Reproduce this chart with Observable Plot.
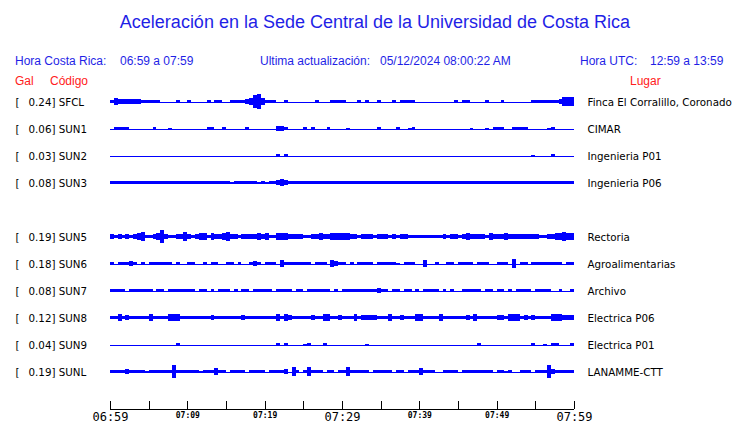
<!DOCTYPE html>
<html>
<head>
<meta charset="utf-8">
<script src="https://cdn.jsdelivr.net/npm/d3@7"></script>
<script src="https://cdn.jsdelivr.net/npm/@observablehq/plot@0.6"></script>
<style>
  html, body { margin: 0; padding: 0; background: #fff; }
  #wrap { position: relative; width: 740px; height: 423px; overflow: hidden; background: #fff; }
  .t { position: absolute; white-space: pre; font-family: "Liberation Sans", Arial, sans-serif; line-height: 1; }
  .blue { color: #1f1fe6; }
  .red { color: #ff2020; }
  #traces { position: absolute; left: 0; top: 88px; }
  #axis { position: absolute; left: 0; top: 395px; }
</style>
</head>
<body>
<div id="wrap">
  <div class="t blue" id="title" style="font-size:18px; left:0; width:750px; text-align:center; top:13px;">Aceleración en la Sede Central de la Universidad de Costa Rica</div>
  <div class="t blue" style="font-size:12px; left:15px; top:55px;">Hora Costa Rica:</div>
  <div class="t blue" style="font-size:12px; left:120px; top:55px;">06:59 a 07:59</div>
  <div class="t blue" style="font-size:12px; left:260px; top:55px;">Ultima actualización:</div>
  <div class="t blue" style="font-size:12px; left:380px; top:55px;">05/12/2024 08:00:22 AM</div>
  <div class="t blue" style="font-size:12px; left:580px; top:55px;">Hora UTC:</div>
  <div class="t blue" style="font-size:12px; left:650px; top:55px;">12:59 a 13:59</div>
  <div class="t red" style="font-size:12px; left:15px; top:75px;">Gal</div>
  <div class="t red" style="font-size:12px; left:50px; top:75px;">Código</div>
  <div class="t red" style="font-size:12px; left:630px; top:75px;">Lugar</div>
  <div id="traces"></div>
  <div id="axis"></div>
</div>
<script>
// ---- data ----
const codes  = ["SFCL","SUN1","SUN2","SUN3","SUN5","SUN6","SUN7","SUN8","SUN9","SUNL"];
const gal    = [0.24, 0.06, 0.03, 0.08, 0.19, 0.18, 0.08, 0.12, 0.04, 0.19];
const places = ["Finca El Corralillo, Coronado","CIMAR","Ingenieria P01","Ingenieria P06",
                "Rectoria","Agroalimentarias","Archivo","Electrica P06","Electrica P01","LANAMME-CTT"];
const rowOrder = ["SFCL","SUN1","SUN2","SUN3","SUN4","SUN5","SUN6","SUN7","SUN8","SUN9","SUNL"];

const startTime = "06:59";
const endTime = "07:59";
const sampleSeconds = 30; // one envelope value per half minute
const tickTimes = ["06:59","07:04","07:09","07:14","07:19","07:24","07:29","07:34","07:39","07:44","07:49","07:54","07:59"];
const bigTickLabels = ["06:59","07:29","07:59"];
const smallTickLabels = ["07:09","07:19","07:39","07:49"];

// envelope half-amplitude of each trace, one value per half minute (120 values)
const envSFCL = [1,3,2,2,2,2,2,2,1,1,1.5,1.5,1.5,0,0,0,0,1,0,0,1,0,0,0,0,1,0,1,1,0,
                 0,1,1.5,1.5,1.5,2,3,5,6,3,1,1,1,0,0,1.5,0,0,0,0,0,0,0,1,0,0,0,1.5,1,1.5,
                 1,0,0,0,1,0,1.5,0,0,1,0,0,0,1,0,1,1,1,1,0,0,0,0,0,0,0,0,0,0,1,
                 0,1.5,1,0,0,0,0,1,0,0,0,1,0,0,0,0,0,0,0,1.5,1.5,1.5,1.5,1.5,1.5,1.5,2,3.5,4,3.5];
const envSUN1 = [0,1,1,1,1,0,0,0,0,0,0,1,0,0,0,0.5,0,0,0,0,0,0,0,0,0,1.5,1.5,0,0,1,
                 0,0,0,0,0,1,0,0,0,0,0,0,0,2,2,1.5,0,0,0,0,1,0,1.5,0,0,0,1,0,0,0,
                 0,0.5,0,0,0,0,0,0,0,1,0,0,0,0,1,0,0,0.5,1,0,0,0,0,0,0,0,0,0,0,0,
                 0,0,0,0.5,0,0,0,0.5,0,1.5,1.5,1,0,0,1.5,1.5,1,1,0,0,0,0,0,0.5,1,0,0,0,0,0];
const envSUN2 = [0,0,0,0,0,0,0,0,0,0,0,0,0,0,0,0,0,0,0,0,0,0,0,0,0,0,0,0,0,0,
                 0,0,0,0,0,0,0,0,0,0,0,0,0,1.5,0,1,0,0,0,0,0,0,0,0,0,0,0,0,0,0,
                 0,0,0,0,0,0,0,0,0,0,0,0,0,0,0,0,0,0,0,0,0,0,0,0,0,0,0,0,0,0,
                 0,0,0,0,0,0,0,0,0,0,0,0,0,0,0,0,0,0,0,0.5,0,0,0,0,1,0,0,0,0,0];
const envSUN3 = [1.5,1.5,1.5,1.5,1.5,1.5,1.5,1.5,1.5,1,1,1.5,1.5,1.5,1.5,1,1.5,1.5,1.5,1.5,1,1.5,1,1,1,1.5,1.5,1,1.5,1,
                 1.5,0.5,1.5,1.5,1,1.5,1.5,1,0.5,1,0.5,1,1.5,2,2.5,2,1.5,1.5,1.5,1.5,1,1.5,1.5,1.5,1,1.5,1.5,1,1.5,1.5,
                 1.5,1,1.5,1.5,1.5,1.5,1.5,1.5,1.5,1.5,1,1.5,1.5,1.5,1.5,1.5,1.5,1.5,1.5,1,1.5,1.5,1.5,1.5,1.5,1.5,1,1.5,1.5,1,
                 1,1.5,1.5,1.5,1,1.5,1.5,1.5,1.5,1.5,1.5,1.5,1.5,1.5,1,1.5,1.5,1.5,1.5,1.5,1.5,1.5,1.5,1.5,1.5,1.5,1.5,1.5,1.5,1.5];
const envSUN5 = [2,1,2,1.5,2,1.5,2,2.5,3.5,1,1.5,2,2.5,5,2,1.5,1,2,2,3.5,2,1,2,2.5,3,1,2.5,2,2,2.5,
                 3.5,2,2,1,2,2,2,2,2.5,2,3,1,1.5,2.5,2.5,3,2,2,2,2,1.5,1.5,2,2,3,2,2,2.5,2.5,2.5,
                 2.5,2.5,2,2,1.5,2,2,2,1.5,2,2,2,1.5,2,1.5,2,2,1.5,1.5,1.5,1.5,1.5,1.5,1.5,1.5,1.5,2,1.5,2,2,
                 1.5,2,2.5,2,2,2,2,1.5,3,2,2,2,3,2,2,2,2,2,2,2,2,1.5,1.5,2,2,2.5,3,3.5,3,3];
const envSUN6 = [1,0,1.5,1,1.5,2,1.5,0,1,0,1,1,1,1,1,1,0,1,0,0,1.5,1,0,0,1,0,1,1,0,0,
                 1,1,0,1,0,0,1.5,2,1.5,0,1,1,1,0,3,1,1,1,1,1,1.5,1.5,0,1,1.5,1,0,3,2,1,
                 1,0,1,0,1.5,1.5,1,1,0,1.5,1.5,1,1,1,0.5,0,1.5,1,1,0,0,2.5,0,0,1,0,0,1.5,1.5,0,
                 1,1,1,1,0,1,1,1,0,0,1,1,1,0,3.5,0,1.5,1,0,1.5,1.5,1,1.5,1.5,1.5,1,1,0,1,1.5];
const envSUN7 = [1.5,1.5,1.5,1,0,1.5,1,1,1,1.5,1,0,1.5,1.5,0,1.5,1.5,1.5,1.5,1,1,1,0,1.5,1,0,1,0,1,1.5,
                 1.5,0,1,0,1,1,0,1.5,1.5,1,1,1,0,1,1,1.5,1.5,0,1.5,1.5,0,1.5,1.5,1,1,1.5,1,0,1,0,
                 1,1.5,1.5,1,1.5,1.5,1.5,1.5,1.5,2,1,1,0,1,1,0,1.5,1.5,0,1,0,1.5,1.5,1.5,1,0,1,0,1,0,
                 0,1.5,1.5,1.5,1,1,0,1,1,0,1,1,0,1,0,1.5,1.5,1.5,1,0,1.5,1.5,1.5,1.5,0,0,1,0,0,1];
const envSUN8 = [1.5,1.5,2.5,1.5,2,1.5,1.5,1.5,1.5,1.5,2.5,1.5,1.5,1.5,1.5,2.5,2.5,2.5,1.5,1.5,1.5,1.5,1.5,1.5,1.5,1.5,2,1.5,1.5,1.5,
                 1.5,1.5,1.5,1.5,2,1.5,1.5,1.5,1.5,1.5,1.5,1.5,1.5,2.5,1.5,2.5,2,1.5,1.5,1.5,1.5,1.5,2,1.5,1.5,3,3,1.5,1.5,2,
                 1.5,1.5,1.5,2.5,1.5,2,2,2,2,1.5,1.5,1.5,2.5,1.5,1.5,2,1.5,1.5,1.5,2.5,2.5,1.5,1.5,1.5,1.5,2.5,1.5,1.5,1.5,1.5,
                 1.5,1.5,2,1.5,2.5,1.5,1.5,1.5,1.5,1.5,2,2,1.5,2.5,2.5,2.5,1.5,2,1.5,2,1.5,1.5,1.5,1.5,2.5,2.5,2.5,2,2,2];
const envSUN9 = [0,0,0,0,0,0,0,0,0,0,0,0,0,0,0,0,0,1.5,0,0,0,0,0,0,0,0,0,0,0,0,
                 0,0,0,0,0,0,0,0,0,0,0,0,0,1,0,1.5,0,0,0,0,0.5,1,0,0,0,1,0,0,0,0,
                 0,0,0,0,0,0,0.5,0,0,0,0,0,0,0,0,0,0,0,0,0,0,0,0,0,0,0,0,0,0,0,
                 0,0,0,0,0,1.5,0,0,0,0,0,0,0,0,0,0,0,0,0,1,0,0,0.5,0,1.5,1,0,0,0,1];
const envSUNL = [1,1,1.5,1,2,1.5,1.5,1,1,0.5,1,1,1,1,1,1,5.5,1,1.5,1.5,1.5,1,1,0.5,1,1.5,1,3,1.5,1,
                 0,1.5,1.5,1.5,1,0,1.5,1,1.5,1,0,1.5,1.5,1.5,1,2,0,4,1,0,1,4,1.5,1.5,1.5,0,1.5,1.5,0,1.5,
                 1,3.5,1.5,1.5,1.5,1.5,1.5,0,1,1,1,1,1,0,1.5,1.5,0,1,1.5,1.5,2.5,1.5,1.5,1.5,0,0,1,1,1,1,
                 0,1,1,1,1,1,1,1,1,0,1,1,0.5,1,0,0,1.5,1.5,1.5,0,1,1,1,5,2,1.5,1.5,1.5,1.5,1.5];
const envelopes = {
  SFCL: envSFCL, SUN1: envSUN1, SUN2: envSUN2, SUN3: envSUN3, SUN5: envSUN5,
  SUN6: envSUN6, SUN7: envSUN7, SUN8: envSUN8, SUN9: envSUN9, SUNL: envSUNL
};

// ---- build tables ----
const parse = d3.utcParse("%H:%M");
const fmt = d3.utcFormat("%H:%M");
const t0 = parse(startTime), t1 = parse(endTime);
const stations = codes.map((code, i) => ({code, gal: gal[i], place: places[i]}));
const samples = [];
for (const code of codes) {
  envelopes[code].forEach((a, i) => {
    samples.push({code, a,
      s: new Date(+t0 + i * sampleSeconds * 1000),
      e: new Date(+t0 + (i + 1) * sampleSeconds * 1000)});
  });
}
const BLUE = "#0000ff";
const W = 740, ML = 110, MR = 166;

const traces = Plot.plot({
  width: W, height: 297,
  marginLeft: ML, marginRight: MR, marginTop: 0, marginBottom: 0,
  style: {fontFamily: "DejaVu Sans", fontSize: "10.3px", background: "transparent", overflow: "visible"},
  x: {type: "utc", domain: [t0, t1], axis: null},
  y: {domain: [-11, 11], axis: null},
  fy: {domain: rowOrder, padding: 0, axis: null},
  marks: [
    Plot.ruleY(stations, {y: 0, fy: "code", stroke: BLUE, strokeWidth: 1, shapeRendering: "crispEdges"}),
    Plot.rect(samples.filter(d => d.a > 0), {
      x1: "s", x2: "e", y1: d => -d.a, y2: d => d.a, fy: "code",
      fill: BLUE, shapeRendering: "crispEdges"
    }),
    Plot.text(stations, {fy: "code", frameAnchor: "left", dx: -95, dy: 1, text: () => "[", textAnchor: "start", fill: "black"}),
    Plot.text(stations, {fy: "code", frameAnchor: "left", dx: -82, dy: 1, text: d => `${d.gal.toFixed(2)}] ${d.code}`, textAnchor: "start", fill: "black"}),
    Plot.text(stations, {fy: "code", frameAnchor: "right", dx: 13, dy: 1, text: "place", textAnchor: "start", fill: "black"})
  ]
});
document.getElementById("traces").appendChild(traces);

const axis = Plot.plot({
  width: W, height: 28,
  marginLeft: ML, marginRight: MR, marginTop: 6, marginBottom: 14,
  style: {background: "transparent", overflow: "visible", color: "black"},
  x: {type: "utc", domain: [t0, t1]},
  y: {domain: [0, 1], axis: null},
  marks: [
    Plot.ruleY([0], {stroke: "black", strokeWidth: 1, shapeRendering: "crispEdges"}),
    Plot.ruleX(tickTimes.map(parse), {y1: 0, y2: 1, stroke: "black", shapeRendering: "crispEdges"}),
    Plot.axisX(bigTickLabels.map(parse), {anchor: "bottom", tickSize: 0, tickPadding: 2.5, tickFormat: fmt,
      fontSize: 12, fontFamily: "DejaVu Sans Mono", fill: "black", label: null}),
    Plot.axisX(smallTickLabels.map(parse), {anchor: "bottom", tickSize: 0, tickPadding: 3, tickFormat: fmt,
      fontSize: 8, fontWeight: "bold", fontFamily: "DejaVu Sans Mono", fill: "black", label: null})
  ]
});
document.getElementById("axis").appendChild(axis);
</script>
</body>
</html>
